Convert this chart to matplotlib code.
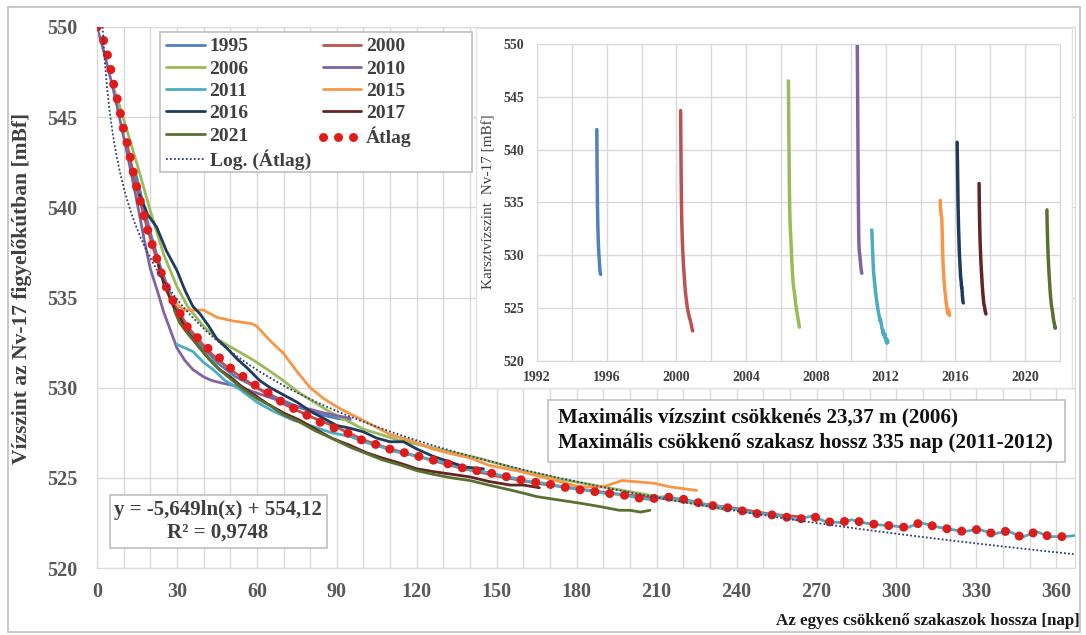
import matplotlib
matplotlib.use("Agg")
import matplotlib.pyplot as plt
from matplotlib.patches import Rectangle
from matplotlib.ticker import MultipleLocator
import numpy as np

plt.rcParams['font.family'] = ['Liberation Serif', 'DejaVu Serif']
plt.rcParams['font.weight'] = 'bold'

# ---------------- data ----------------
labels = ['1995', '2000', '2006', '2010', '2011', '2015', '2016', '2017', '2021']
colors = ['#4F81BD', '#C0504D', '#9BBB59', '#8064A2', '#4BACC6', '#F79646', '#1F3A5F', '#632523', '#5A7030']

# start dates (decimal year) of each declining section (inset)
start_year = [1995.43, 2000.24, 2006.42, 2010.37, 2011.20, 2015.13, 2016.10, 2017.36, 2021.25]

d1995 = [14.5, 17, 20, 24, 28, 33, 38, 45, 52, 60, 68, 76, 84, 90, 95]
v1995 = [541.9, 540.4, 538.6, 536.6, 535.0, 533.6, 532.5, 531.4, 530.6, 530.0, 529.4, 528.9, 528.5, 528.3, 528.2]

d2000 = [11, 14, 18, 22, 26, 30, 35, 42, 50, 60, 70, 80, 90, 100, 110, 120, 135, 150, 165, 180, 195, 210, 225, 240, 252, 263]
v2000 = [543.7, 541.6, 539.3, 537.3, 535.6, 534.3, 533.2, 532.0, 531.0, 530.0, 529.1, 528.4, 527.8, 527.1, 526.6, 526.2,
         525.6, 525.1, 524.7, 524.4, 524.1, 523.9, 523.6, 523.3, 523.0, 522.85]

d2006 = [6.5, 9, 12, 16, 20, 25, 30, 34, 40, 45, 52, 59, 68, 76, 88, 100, 113, 125, 143, 160, 175, 190, 205, 220, 237]
v2006 = [546.5, 545.4, 543.9, 541.9, 539.8, 537.4, 535.6, 534.5, 533.4, 532.7, 532.1, 531.5, 530.6, 529.7, 528.6, 527.7,
         527.1, 526.7, 526.1, 525.4, 524.9, 524.5, 524.1, 523.7, 523.2]

d2010 = [0, 3, 6, 9, 12, 15, 18, 20, 23, 25, 28, 30, 33, 36, 40, 43, 47, 52, 58, 64, 70, 75, 80, 85, 90, 95]
v2010 = [550, 548.4, 546.6, 544.6, 542.5, 540.3, 538.0, 536.6, 535.2, 534.2, 533.0, 532.2, 531.5, 531.0, 530.6, 530.4,
         530.25, 530.1, 529.8, 529.5, 529.2, 528.95, 528.8, 528.6, 528.45, 528.3]

d2011 = [30, 33, 36, 40, 43.6, 48, 53.7, 60, 66, 73.6, 80, 88, 95, 100, 106, 112, 117, 123, 128.5, 134, 140, 145, 151,
         156, 162, 168, 173, 179, 184, 190, 196, 201, 207, 212.5, 218, 224, 229, 234, 240, 246, 251, 257, 262.5, 268.4,
         273.4, 278.75, 283.1, 288.75, 293.75, 299.1, 304.1, 309.1, 314.4, 320, 325.4, 330.9, 336.6, 341.9, 347.1,
         352.5, 357.5, 362.9, 367]
v2011 = [532.4, 532.2, 532.0, 531.4, 531.0, 530.4, 529.9, 529.2, 528.7, 528.2, 527.9, 527.5, 527.3, 527.0, 526.75,
         526.45, 526.3, 526.1, 525.9, 525.7, 525.45, 525.35, 525.15, 525.0, 524.8, 524.7, 524.55, 524.4, 524.3, 524.15,
         524.1, 523.95, 523.8, 523.95, 523.85, 523.7, 523.5, 523.4, 523.25, 523.05, 523.0, 522.9, 522.67, 522.89,
         522.57, 522.52, 522.67, 522.48, 522.39, 522.33, 522.24, 522.52, 522.3, 522.15, 522.02, 522.15, 521.89,
         522.06, 521.7, 522.02, 521.74, 521.74, 521.8]

d2015 = [27, 30, 33, 37, 40, 45, 51, 58, 60, 65, 70, 75, 80, 85, 91, 97, 105, 110, 118, 126, 134, 140, 147, 159, 171,
         181, 190, 197, 201, 209, 215, 225]
v2015 = [535.2, 534.6, 534.3, 534.3, 534.3, 533.9, 533.7, 533.55, 533.4, 532.6, 531.9, 530.9, 530.0, 529.4, 528.85,
         528.4, 527.8, 527.4, 527.05, 526.6, 526.3, 526.1, 525.7, 525.35, 524.9, 524.5, 524.5, 524.85, 524.8, 524.7,
         524.5, 524.3]

d2016 = [16, 19, 22.4, 26, 30, 33, 36, 38.6, 42, 45, 48.7, 52.5, 56.3, 61, 65, 70, 75, 80, 85, 90, 95, 100, 105, 110,
         115, 120, 126, 132, 138, 145]
v2016 = [540.7, 539.6, 538.9, 537.6, 536.5, 535.4, 534.5, 534.1, 533.4, 532.7, 532.2, 531.6, 531.1, 530.4, 530.0,
         529.6, 529.2, 528.7, 528.3, 527.9, 527.75, 527.55, 527.2, 527.0, 527.0, 526.6, 526.2, 525.9, 525.6, 525.5]

d2017 = [23, 25, 27, 29, 31, 34, 38, 42, 46, 50, 54, 58, 64, 70, 76, 82, 88, 95, 101, 107, 114, 120, 126, 133, 140,
         147, 155, 160, 166]
v2017 = [536.8, 535.8, 535.1, 534.4, 533.9, 533.1, 532.3, 531.6, 531.0, 530.6, 530.1, 529.7, 529.1, 528.6, 528.2,
         527.7, 527.2, 526.8, 526.4, 526.1, 525.8, 525.5, 525.35, 525.2, 525.05, 524.8, 524.6, 524.6, 524.45]

d2021 = [29, 31, 34, 38, 42, 46, 50, 55, 60, 65, 70, 76, 82, 88, 95, 101, 107, 114, 120, 126, 133, 140, 147, 155, 160,
         165, 172, 181, 189, 196, 200, 204, 207.5]
v2021 = [534.3, 533.6, 533.0, 532.3, 531.6, 531.0, 530.5, 529.9, 529.4, 529.0, 528.5, 528.1, 527.6, 527.2, 526.7,
         526.35, 526.0, 525.7, 525.4, 525.2, 525.0, 524.85, 524.6, 524.33, 524.15, 523.96, 523.8, 523.6, 523.4, 523.2,
         523.2, 523.1, 523.2]

d_avg = [0, 2.4, 3.9, 5.25, 6.4, 7.8, 9, 10.1, 11.6, 12.8, 14, 15.4, 17.1, 18.3, 19.9, 21.8, 23.4, 25.1, 27.4, 30.6,
         33.1, 37.5, 41.5, 45.6, 50, 55, 59.75, 64.4, 69.4, 74.4, 79.75, 84.75, 90.25, 95.4, 100.6, 106, 111.6, 117,
         122.75, 128.5, 133.75, 139.4, 145, 150.6, 156, 161.9, 167.5, 173, 178.75, 184.4, 190, 196, 201, 207, 212.5,
         218, 223.75, 228.75, 234.4, 239.75, 245.6, 251, 256.9, 262.5, 268.4, 273.4, 278.75, 283.1, 288.75, 293.75,
         299.1, 304.1, 309.1, 314.4, 320, 325.4, 330.9, 336.6, 341.9, 347.1, 352.5, 357.5, 362.9, 367]
v_avg = [550, 549.3, 548.45, 547.6, 546.7, 545.9, 545.05, 544.2, 543.4, 542.5, 541.7, 540.8, 539.9, 539.1, 538.3,
         537.45, 536.7, 535.9, 535.1, 534.3, 533.5, 532.8, 532.2, 531.7, 531.1, 530.6, 530.1, 529.7, 529.2, 528.8,
         528.4, 528.0, 527.7, 527.4, 527.0, 526.8, 526.5, 526.35, 526.1, 525.9, 525.7, 525.45, 525.35, 525.17,
         524.98, 524.8, 524.7, 524.56, 524.37, 524.3, 524.15, 524.1, 523.93, 523.8, 523.96, 523.87, 523.7, 523.5,
         523.4, 523.26, 523.04, 522.98, 522.89, 522.67, 522.89, 522.57, 522.52, 522.67, 522.48, 522.39, 522.33,
         522.24, 522.52, 522.3, 522.15, 522.02, 522.15, 521.89, 522.06, 521.7, 522.02, 521.74, 521.74, 521.8]

# logarithmic trendline of the average: y = a*ln(x) + b
trend_a = -5.649
trend_b = 554.12

days = [d1995, d2000, d2006, d2010, d2011, d2015, d2016, d2017, d2021]
vals = [v1995, v2000, v2006, v2010, v2011, v2015, v2016, v2017, v2021]

# ---------------- figure ----------------
W, H = 1086, 635
fig = plt.figure(figsize=(W / 100, H / 100), dpi=100)
fig.patch.set_facecolor('white')


def fx(px):
    return px / W


def fy(py):
    return 1 - py / H


GRID = '#D9D9D9'
TXT = '#404040'

# outer frame
fig.patches.append(Rectangle((fx(8), fy(632)), fx(1080) - fx(8), fy(7) - fy(632), transform=fig.transFigure,
                             facecolor='none', edgecolor='#BFBFBF', lw=1.2, zorder=0))

ax = fig.add_axes([fx(97), fy(568), fx(1075) - fx(97), fy(27) - fy(568)])
ax.set_xlim(0, 367)
ax.set_ylim(520, 550)
ax.xaxis.set_major_locator(MultipleLocator(30))
ax.xaxis.set_minor_locator(MultipleLocator(10))
ax.yaxis.set_major_locator(MultipleLocator(5))
ax.grid(True, which='both', color=GRID, lw=1)
ax.set_axisbelow(True)
for s in ax.spines.values():
    s.set_color(GRID)
ax.tick_params(which='both', length=0)
ax.tick_params(axis='y', pad=14, labelsize=14.5, labelcolor='#595959')
ax.tick_params(axis='x', pad=10, labelsize=14.5, labelcolor='#595959')

handles = {}
for lab, col, d, v in zip(labels, colors, days, vals):
    h, = ax.plot(d, v, color=col, lw=2.0, zorder=2, solid_capstyle='round')
    handles[lab] = h

h_avg, = ax.plot(d_avg, v_avg, color='#E01B1B', lw=6.5, linestyle=(0, (0.01, 1.65)),
                 dash_capstyle='round', zorder=3)
tx = np.linspace(1, 367, 400)
h_log, = ax.plot(tx, trend_a * np.log(tx) + trend_b, color='#2E3F6B', lw=1.3, linestyle=(0, (1, 1.2)), zorder=4)

fig.text(fx(22), fy(288), 'Vízszint az Nv-17 figyelőkútban [mBf]', rotation=90, ha='center', va='center',
         fontsize=15.5, color=TXT)

# legend frame (fixed size, as in the original)
ax.add_patch(Rectangle((fx(160), fy(172)), fx(472) - fx(160), fy(32) - fy(172), transform=fig.transFigure,
                       facecolor='white', edgecolor='#BFBFBF', lw=1.2, zorder=4.5, clip_on=False))

# legend (row-major order reproduced for 2 columns)
col1 = ['1995', '2006', '2011', '2016', '2021']
col2 = ['2000', '2010', '2015', '2017']
hl = [handles[k] for k in col1] + [h_log] + [handles[k] for k in col2] + [h_avg]
ll = col1 + ['Log. (Átlag)'] + col2 + ['Átlag']
leg = ax.legend(hl, ll, ncol=2, loc='upper left', bbox_to_anchor=(fx(160), fy(32)), bbox_transform=fig.transFigure,
                borderaxespad=0, frameon=False,
                prop={'family': 'Liberation Serif', 'weight': 'bold', 'size': 14}, labelspacing=0.24,
                handlelength=2.0, handletextpad=0.25, columnspacing=0.6, borderpad=0.3)
for t in leg.get_texts():
    t.set_color(TXT)
leg.set_zorder(5)

# equation box
fig.patches.append(Rectangle((fx(110), fy(548)), fx(327) - fx(110), fy(495) - fy(548), transform=fig.transFigure,
                             facecolor='white', edgecolor='#BFBFBF', lw=1.2, zorder=1))
fig.text(fx(218), fy(510), 'y = -5,649ln(x) + 554,12', ha='center', va='center', fontsize=15, color=TXT, zorder=2)
fig.text(fx(218), fy(533), 'R² = 0,9748', ha='center', va='center', fontsize=15, color=TXT, zorder=2)

# x label
fig.text(fx(1080), fy(621), 'Az egyes csökkenő szakaszok hossza [nap]', ha='right', va='center', fontsize=12.2,
         color='#1A1A1A')

# info box
fig.patches.append(Rectangle((fx(548), fy(462)), fx(1065) - fx(548), fy(400) - fy(462), transform=fig.transFigure,
                             facecolor='white', edgecolor='#BFBFBF', lw=1.2, zorder=1))
fig.text(fx(558), fy(417), 'Maximális vízszint csökkenés 23,37 m (2006)', ha='left', va='center', fontsize=15.2,
         color='#111111', zorder=2)
fig.text(fx(558), fy(443), 'Maximális csökkenő szakasz hossz 335 nap (2011-2012)', ha='left', va='center',
         fontsize=15.2, color='#111111', zorder=2)

# inset background
fig.patches.append(Rectangle((fx(476), fy(388)), fx(1072) - fx(476), fy(28) - fy(388), transform=fig.transFigure,
                             facecolor='white', edgecolor='#E3E3E3', lw=1, zorder=1))

ins = fig.add_axes([fx(537), fy(361), fx(1060) - fx(537), fy(44) - fy(361)], zorder=3)
ins.set_xlim(1992, 2022)
ins.set_ylim(520, 550)
ins.xaxis.set_major_locator(MultipleLocator(4))
ins.xaxis.set_minor_locator(MultipleLocator(2))
ins.yaxis.set_major_locator(MultipleLocator(5))
ins.grid(True, which='both', color=GRID, lw=1)
ins.set_axisbelow(True)
for s in ins.spines.values():
    s.set_color(GRID)
ins.tick_params(which='both', length=0)
ins.tick_params(axis='y', pad=9, labelsize=10, labelcolor=TXT)
ins.tick_params(axis='x', pad=7, labelsize=10, labelcolor=TXT)
for lab, col, d, v, y0 in zip(labels, colors, days, vals, start_year):
    ty = [y0 + (di - d[0]) / 365.25 for di in d]
    ins.plot(ty, v, color=col, lw=2.5, solid_capstyle='round')
fig.text(fx(489), fy(202), 'Karsztvízszint  Nv-17 [mBf]', rotation=90, ha='center', va='center', fontsize=11,
         color=TXT, fontweight='normal')

fig.savefig('out.png', dpi=100, facecolor='white')
